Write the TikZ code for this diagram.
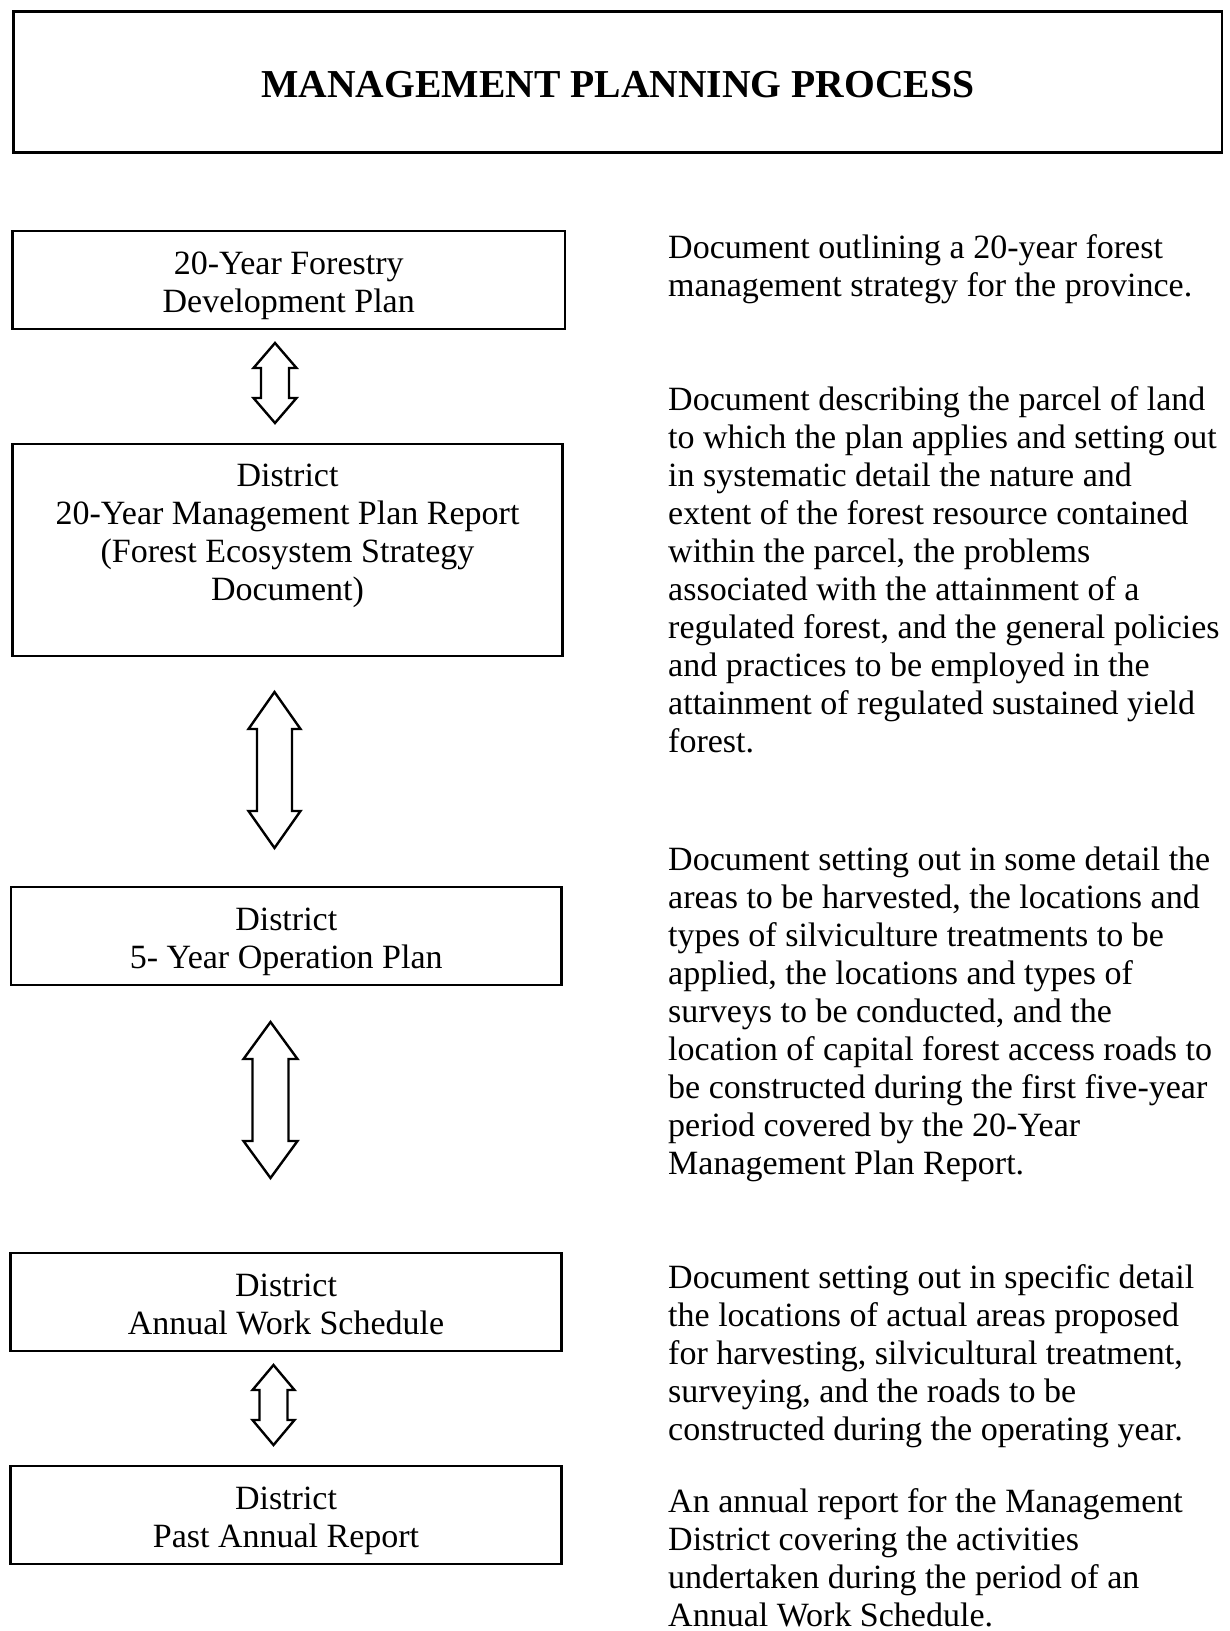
\documentclass[tikz,border=0pt]{standalone}
\usepackage{fontspec}
\setmainfont{Liberation Serif}
\usetikzlibrary{calc}
\newcommand\bodyfont{\fontsize{34bp}{38bp}\selectfont}
\newcommand\titlefont{\fontsize{39.6bp}{46bp}\selectfont\bfseries}
% #1 top coordinate, #2 bottom coordinate, #3 head half-width, #4 shaft half-width, #5 head length
\newcommand\blockarrow[5]{%
  \draw[arrline] (#1) -- ($(#1)+(#3,#5)$) -- ($(#1)+(#4,#5)$) -- ($(#2)+(#4,-#5)$)
    -- ($(#2)+(#3,-#5)$) -- (#2) -- ($(#2)+(-#3,-#5)$) -- ($(#2)+(-#4,-#5)$)
    -- ($(#1)+(-#4,#5)$) -- ($(#1)+(-#3,#5)$) -- cycle;}
\begin{document}
\begin{tikzpicture}[x=1bp,y=-1bp,
  box/.style={draw, line width=2.6bp, align=center, inner sep=0pt, font=\bodyfont},
  tb/.style={text height=#1, text depth=0pt},
  desc/.style={anchor=base west, align=left, inner sep=0pt, font=\bodyfont},
  arrline/.style={draw, line width=2.4bp, fill=white, line join=miter}]
\useasboundingbox[fill=white] (0,0) rectangle (1229,1631);

\node[box, tb=30bp, minimum width=1208.5bp, minimum height=141bp, font=\titlefont] (title) at (617.75,82) {MANAGEMENT PLANNING PROCESS};

\node[box, tb=65.2bp, minimum width=552.5bp, minimum height=98bp] (b1) at (288.75,280) {20-Year Forestry\\Development Plan};
\node[box, tb=101.4bp, minimum width=550bp, minimum height=212bp] (b2) at (287.5,550) {District\\20-Year Management Plan Report\\(Forest Ecosystem Strategy\\Document)};
\node[box, tb=65.2bp, minimum width=550.5bp, minimum height=98bp] (b3) at (286.25,936) {District\\5- Year Operation Plan};
\node[box, tb=65.2bp, minimum width=551bp, minimum height=97.7bp] (b4) at (286,1302) {District\\Annual Work Schedule};
\node[box, tb=65.2bp, minimum width=551bp, minimum height=98bp] (b5) at (286,1515) {District\\Past Annual Report};

\coordinate (a1t) at (275,343);   \coordinate (a1b) at (275,423);
\coordinate (a2t) at (274.5,692); \coordinate (a2b) at (274.5,848);
\coordinate (a3t) at (270.5,1022);\coordinate (a3b) at (270.5,1178);
\coordinate (a4t) at (273.5,1365);\coordinate (a4b) at (273.5,1445);
\blockarrow{a1t}{a1b}{21.5}{14}{25}
\blockarrow{a2t}{a2b}{26}{17.5}{37}
\blockarrow{a3t}{a3b}{27}{18}{37}
\blockarrow{a4t}{a4b}{21}{14}{25}

% base anchor of a multi-line node is the baseline of its last line
\node[desc] (d1) at (668,296.8) {Document outlining a 20-year forest\\management strategy for the province.};
\node[desc] (d2) at (668,752.4) {Document describing the parcel of land\\to which the plan applies and setting out\\in systematic detail the nature and\\extent of the forest resource contained\\within the parcel, the problems\\associated with the attainment of a\\regulated forest, and the general policies\\and practices to be employed in the\\attainment of regulated sustained yield\\forest.};
\node[desc] (d3) at (668,1174.1) {Document setting out in some detail the\\areas to be harvested, the locations and\\types of silviculture treatments to be\\applied, the locations and types of\\surveys to be conducted, and the\\location of capital forest access roads to\\be constructed during the first five-year\\period covered by the 20-Year\\Management Plan Report.};
\node[desc] (d4) at (668,1440.1) {Document setting out in specific detail\\the locations of actual areas proposed\\for harvesting, silvicultural treatment,\\surveying, and the roads to be\\constructed during the operating year.};
\node[desc] (d5) at (668,1626.5) {An annual report for the Management\\District covering the activities\\undertaken during the period of an\\Annual Work Schedule.};
\end{tikzpicture}
\end{document}
